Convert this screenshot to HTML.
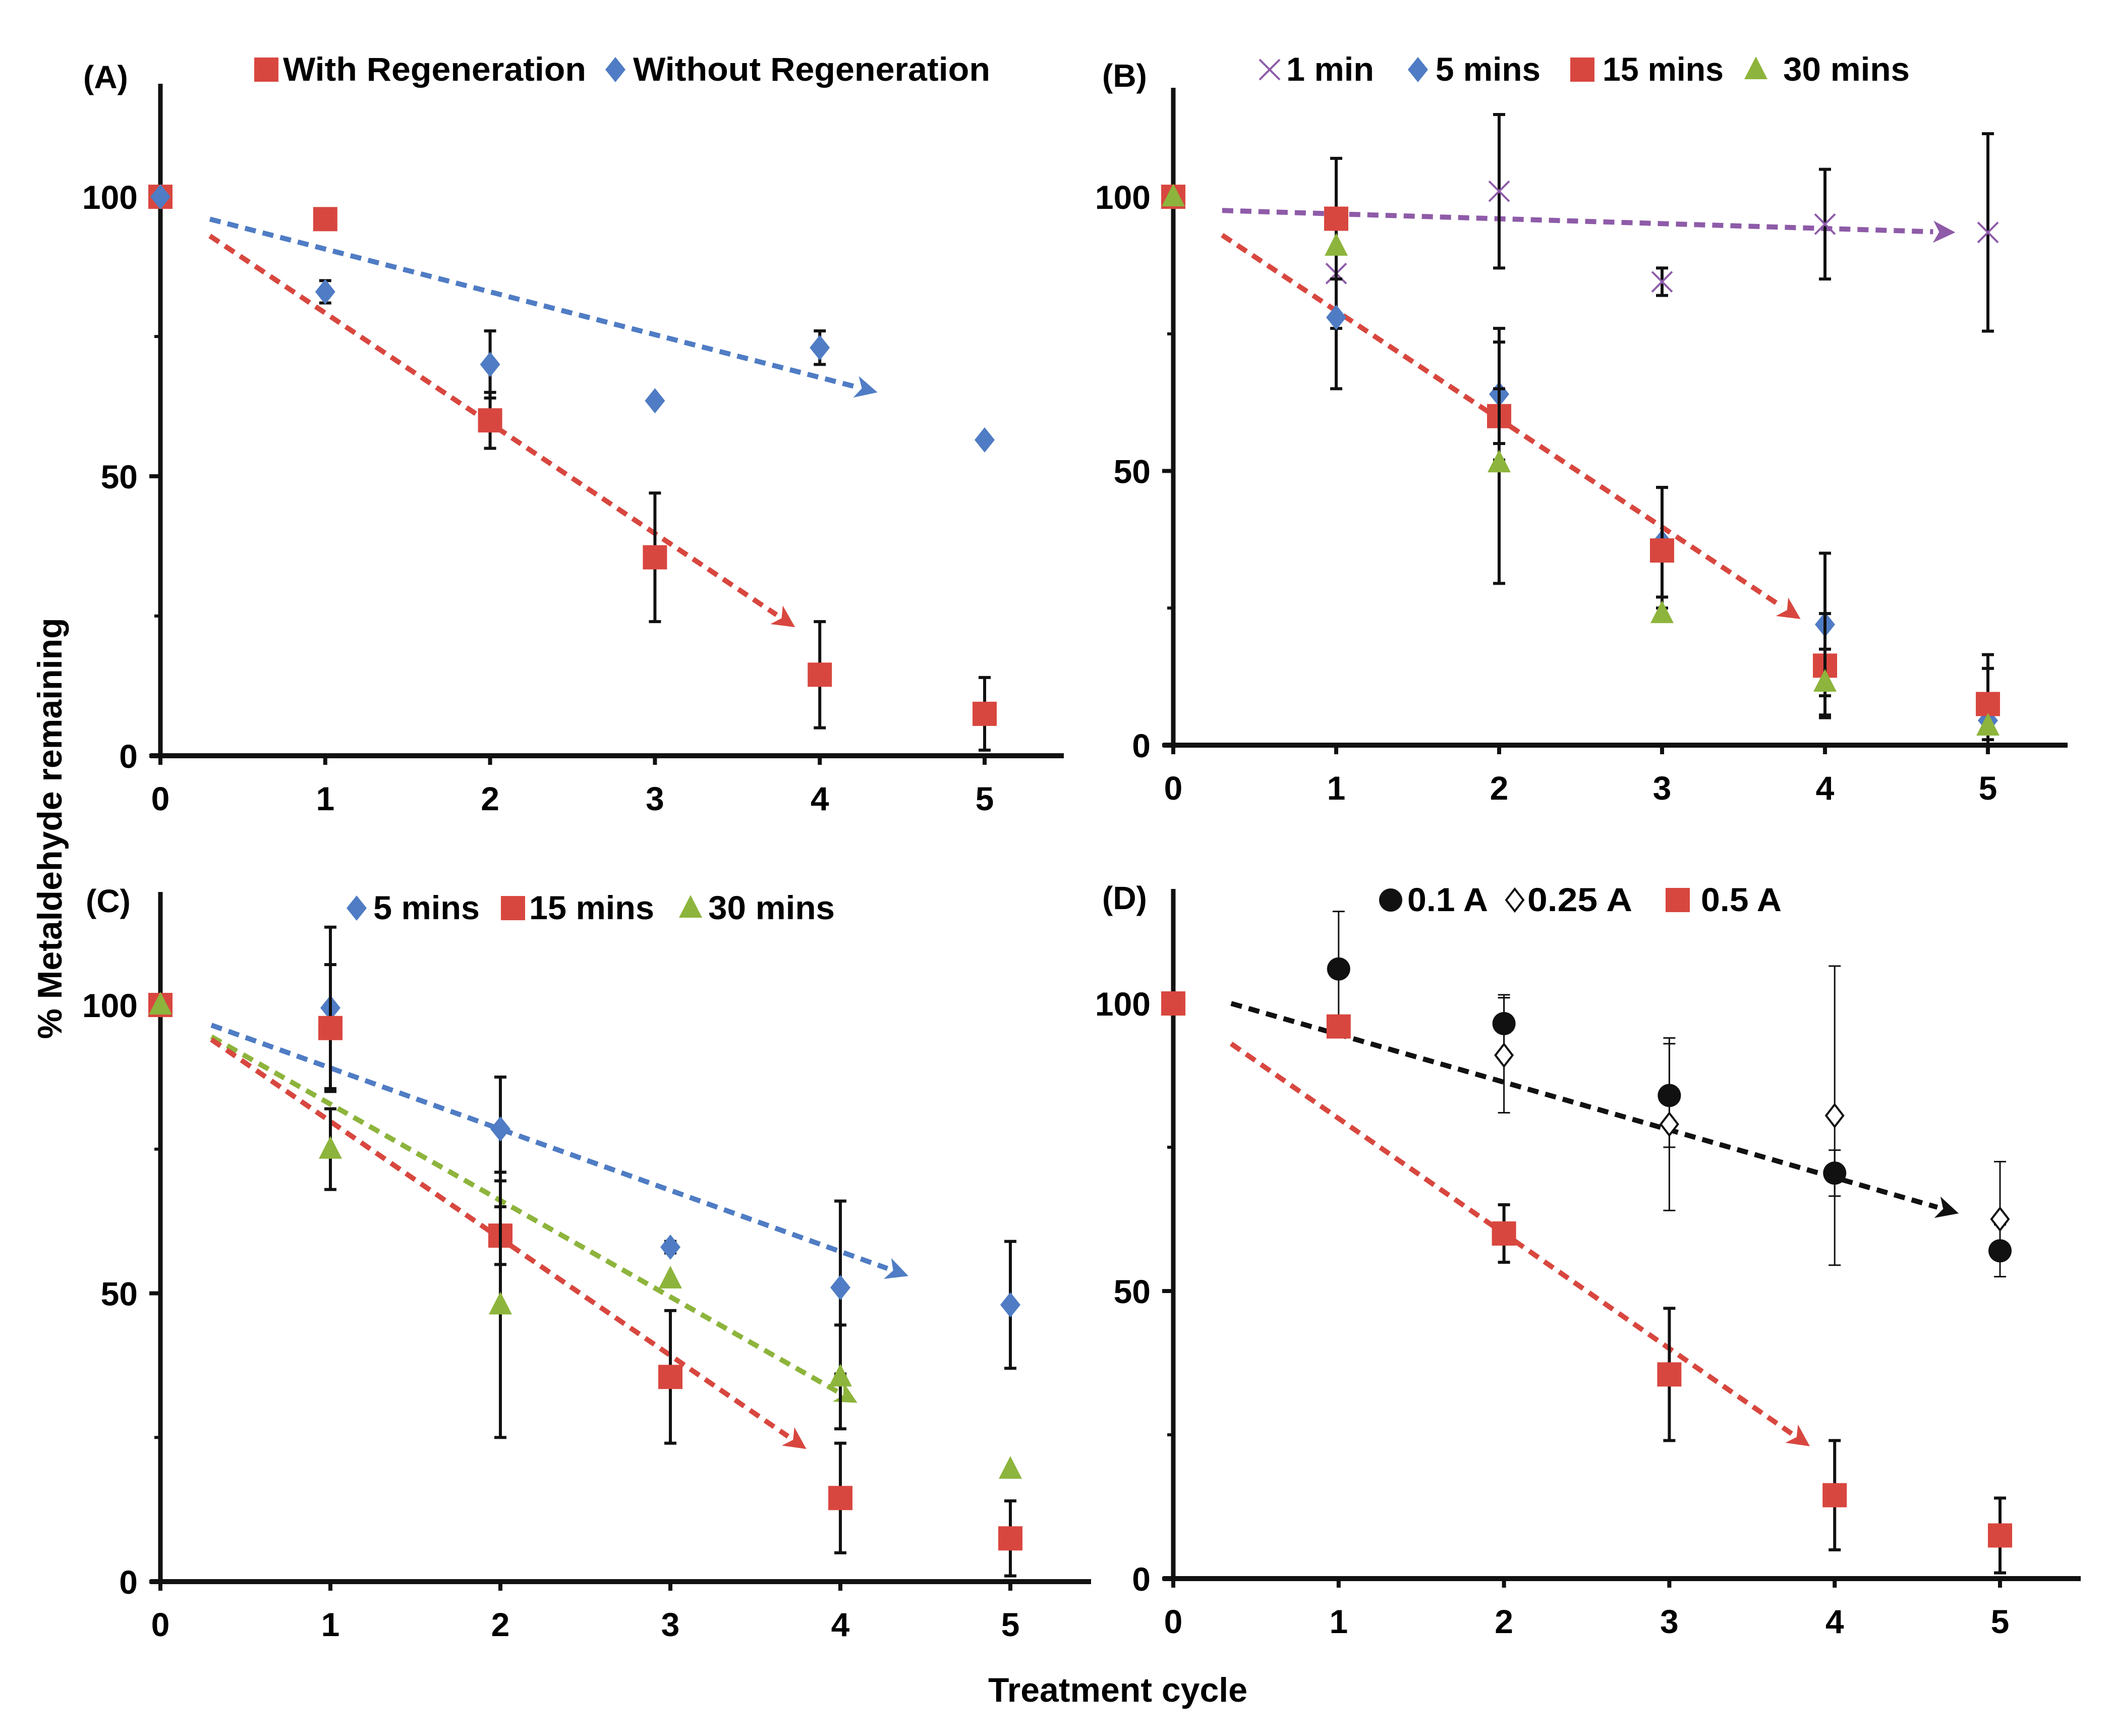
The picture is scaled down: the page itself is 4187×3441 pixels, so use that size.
<!DOCTYPE html>
<html><head><meta charset="utf-8"><style>
html,body{margin:0;padding:0;background:#fff;}
svg{display:block;font-family:"Liberation Sans",Arial,sans-serif;font-weight:bold;}
</style></head><body>
<svg id="fig" width="4187" height="3441" viewBox="0 0 4187 3441" xmlns="http://www.w3.org/2000/svg">
<text x="0" y="0" font-size="68" text-anchor="middle" transform="translate(122,1642) rotate(-90)">% Metaldehyde remaining</text>
<text x="2216" y="3373" font-size="68" text-anchor="middle">Treatment cycle</text>
</svg>
<script>
const cycles=[0,1,2,3,4,5];
// Panel A
const aWithRegen=[100,96,60,35.5,14.5,7.5];
const aWithRegenErr=[0,1,5,11.5,9.5,6.5];
const aWithoutRegen=[100,83,70,63.5,73,56.5];
const aWithoutRegenErr=[0,2,6,0,3,0];
// Panel B
const b1min=[null,86,101,84.5,95,93.5];
const b1minErr=[0,10,14,2.5,10,18];
const b5min=[100,78,64,37,22,4.5];
const b5minErr=[0,13,12,10,13,12];
const b15min=[100,96,60,35.5,14.5,7.5];
const b15minErr=[0,11,5,11.5,9.5,6.5];
const b30min=[100,91,51.5,24,11.5,3.5];
const b30minErr=[0,0,22,1,6,0];
// Panel C
const c5min=[100,99.5,78.5,58,51,48];
const c5minErr=[0,14,9,1,15,11];
const c15min=[100,96,60,35.5,14.5,7.5];
const c15minErr=[0,11,5,11.5,9.5,6.5];
const c30min=[100,75,48,52.5,35.5,19.5];
const c30minErr=[0,7,23,0,9,0];
// Panel D
const d01A=[100,106,96.5,84,70.5,57];
const d01AErr=[0,10,5,9,4,4.5];
const d025A=[null,null,91,79,80.5,62.5];
const d025AErr=[0,0,10,15,26,10];
const d05A=[100,96,60,35.5,14.5,7.5];
const d05AErr=[0,1,5,11.5,9.5,6.5];
const yTicks=[0,50,100];

const NS='http://www.w3.org/2000/svg';
const svg=document.getElementById('fig');
function mk(tag,at,parent){const e=document.createElementNS(NS,tag);for(const k in at)e.setAttribute(k,at[k]);(parent||svg).appendChild(e);return e;}
const RED='#d8473f',BLUE='#4f7cc4',GREEN='#8db43c',PURPLE='#8e5ba8',BLK='#111';

function panel(p){
  const g=mk('g',{});
  
  
  const sx=v=>p.x0+(p.x5-p.x0)*v/5;
  const sy=v=>p.y0+(p.y100-p.y0)*v/100;
  const ya=mk('line',{x1:p.x0,y1:p.y0,x2:p.x0,y2:p.top,stroke:BLK,'stroke-width':9},g);
  
  const xa=mk('line',{x1:p.x0-20,y1:p.y0,x2:p.right,y2:p.y0,stroke:BLK,'stroke-width':10},g);
  
  for(let v=25;v<=125;v+=25){const yy=sy(v);if(yy<p.top)break;mk('line',{x1:p.x0-12,y1:yy,x2:p.x0,y2:yy,stroke:BLK,'stroke-width':6},g);}
  yTicks.forEach(v=>{
    mk('line',{x1:p.x0-22,y1:sy(v),x2:p.x0,y2:sy(v),stroke:BLK,'stroke-width':8},g);
    const t=mk('text',{x:p.x0-45,y:sy(v)+24,'font-size':66,'text-anchor':'end'},g);
    
    t.textContent=v;
  });
  cycles.forEach(c=>{
    mk('line',{x1:sx(c),y1:p.y0,x2:sx(c),y2:p.y0+18,stroke:BLK,'stroke-width':8},g);
    const t=mk('text',{x:sx(c),y:p.y0+108,'font-size':66,'text-anchor':'middle'},g);
    
    t.textContent=c;
  });
  const lab=mk('text',{x:p.labX,y:p.labY,'font-size':64},g);
  
  lab.textContent='('+p.id+')';
  p.trends.forEach(t=>{
    const x1=sx(t[0]),y1=sy(t[1]),x2=sx(t[2]),y2=sy(t[3]);
    const ang=Math.atan2(y2-y1,x2-x1),L=44,W=22;
    const bx=x2-L*Math.cos(ang),by=y2-L*Math.sin(ang);
    const ln=mk('line',{x1,y1,x2:bx,y2:by,stroke:t[4],'stroke-width':10,'stroke-dasharray':'22 14'},g);
    
    const ah=mk('polygon',{points:`${x2},${y2} ${bx-W*Math.sin(ang)},${by+W*Math.cos(ang)} ${bx+12*Math.cos(ang)},${by+12*Math.sin(ang)} ${bx+W*Math.sin(ang)},${by-W*Math.cos(ang)}`,fill:t[4]},g);
    
  });
  p.series.forEach(s=>{
    s.vals.forEach((v,i)=>{
      if(v==null)return;
      const x=sx(cycles[i]),y=sy(v),e=s.err[i];
      if(e>0){
        const lo=Math.max(0,v-e);
        const eb=mk('g',{stroke:BLK,'stroke-width':s.thin?3:6},g);
        
        mk('line',{x1:x,y1:sy(lo),x2:x,y2:sy(v+e)},eb);
        mk('line',{x1:x-12,y1:sy(lo),x2:x+12,y2:sy(lo)},eb);
        mk('line',{x1:x-12,y1:sy(v+e),x2:x+12,y2:sy(v+e)},eb);
      }
      drawMarker(g,s.m,s.c,x,y,s.name);
    });
  });
  p.series.forEach(s=>{
    const lg=mk('g',{},g);
    
    drawMarker(lg,s.m,s.c,s.mx,p.legY-22,'legend-marker');
    const t=mk('text',{x:s.tx,y:p.legY,'font-size':66,textLength:s.tw,lengthAdjust:'spacingAndGlyphs'},lg);
    t.textContent=s.label;
  });
}
function drawMarker(g,m,c,x,y,name){
  let e;
  if(m==='sq')e=mk('rect',{x:x-24,y:y-24,width:48,height:48,fill:c},g);
  else if(m==='di')e=mk('polygon',{points:`${x},${y-25} ${x+20},${y} ${x},${y+25} ${x-20},${y}`,fill:c},g);
  else if(m==='tri')e=mk('polygon',{points:`${x},${y-26} ${x+23},${y+19} ${x-23},${y+19}`,fill:c},g);
  else if(m==='ci')e=mk('circle',{cx:x,cy:y,r:23,fill:c},g);
  else if(m==='odi')e=mk('polygon',{points:`${x},${y-22} ${x+17},${y} ${x},${y+22} ${x-17},${y}`,fill:'#fff',stroke:BLK,'stroke-width':4},g);
  else if(m==='x'){e=mk('path',{d:`M${x-20},${y-20}L${x+20},${y+20}M${x-20},${y+20}L${x+20},${y-20}`,stroke:c,'stroke-width':4,fill:'none'},g);}
  
  
}

panel({id:'A',x0:318,x5:1952,y100:390,y0:1498,top:166,right:2109,labX:165,labY:175,legY:160,
  trends:[[0.3,96,4.35,65,BLUE],[0.3,93,3.85,23,RED]],
  series:[{name:'with-regeneration',label:'With Regeneration',m:'sq',c:RED,vals:aWithRegen,err:aWithRegenErr,mx:528,tx:561,tw:601},
          {name:'without-regeneration',label:'Without Regeneration',m:'di',c:BLUE,vals:aWithoutRegen,err:aWithoutRegenErr,mx:1220,tx:1255,tw:708}]});
panel({id:'B',x0:2326,x5:3941,y100:390,y0:1477,top:174,right:4099,labX:2185,labY:172,legY:160,
  trends:[[0.3,97.5,4.8,93.5,PURPLE],[0.3,93,3.85,23,RED]],
  series:[{name:'1-min',label:'1 min',m:'x',c:PURPLE,vals:b1min,err:b1minErr,mx:2517,tx:2550,tw:174},
          {name:'5-mins',label:'5 mins',m:'di',c:BLUE,vals:b5min,err:b5minErr,mx:2811,tx:2846,tw:208},
          {name:'15-mins',label:'15 mins',m:'sq',c:RED,vals:b15min,err:b15minErr,mx:3137,tx:3177,tw:240},
          {name:'30-mins',label:'30 mins',m:'tri',c:GREEN,vals:b30min,err:b30minErr,mx:3481,tx:3535,tw:251}]});
panel({id:'C',x0:318,x5:2003,y100:1992,y0:3135,top:1768,right:2163,labX:170,labY:1808,legY:1822,
  trends:[[0.3,96.5,4.4,53,BLUE],[0.3,94.5,4.1,31,GREEN],[0.3,94,3.8,23,RED]],
  series:[{name:'5-mins',label:'5 mins',m:'di',c:BLUE,vals:c5min,err:c5minErr,mx:707,tx:740,tw:211},
          {name:'15-mins',label:'15 mins',m:'sq',c:RED,vals:c15min,err:c15minErr,mx:1017,tx:1049,tw:248},
          {name:'30-mins',label:'30 mins',m:'tri',c:GREEN,vals:c30min,err:c30minErr,mx:1369,tx:1404,tw:251}]});
panel({id:'D',x0:2326,x5:3965,y100:1989,y0:3129,top:1762,right:4125,labX:2185,labY:1802,legY:1806,
  trends:[[0.35,100,4.75,63.5,BLK],[0.35,93,3.85,23,RED]],
  series:[{name:'0-1-a',label:'0.1 A',m:'ci',c:BLK,vals:d01A,err:d01AErr,thin:true,mx:2757,tx:2790,tw:160},
          {name:'0-25-a',label:'0.25 A',m:'odi',c:BLK,vals:d025A,err:d025AErr,thin:true,mx:3003,tx:3028,tw:208},
          {name:'0-5-a',label:'0.5 A',m:'sq',c:RED,vals:d05A,err:d05AErr,mx:3326,tx:3372,tw:160}]});
</script>
</body></html>
